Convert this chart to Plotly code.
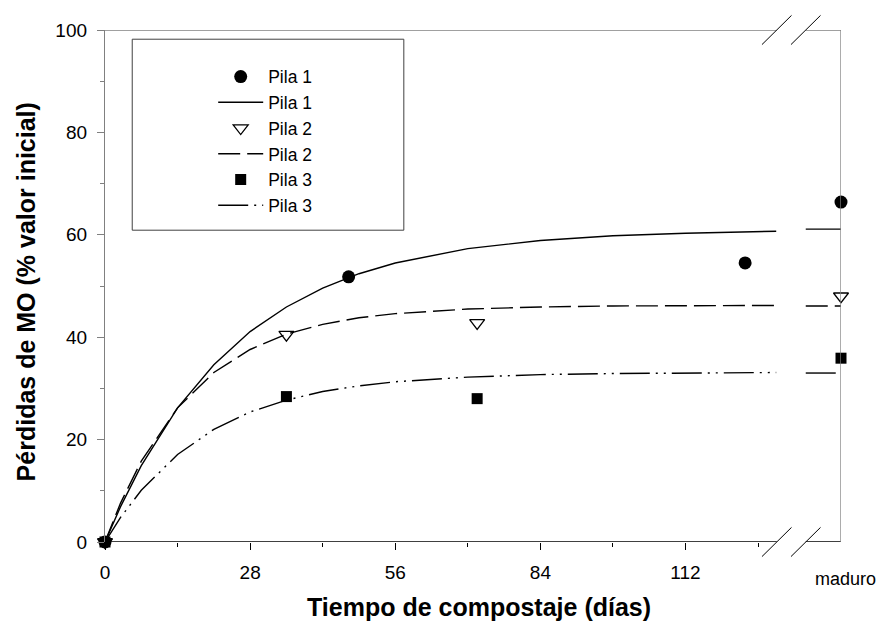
import plotly.graph_objects as go

# ---------------- data ----------------
MADURO = 142  # axis position used for the "maduro" category

# observed points
p1_x = [0, 47, 123.5, MADURO]
p1_y = [0, 51.8, 54.5, 66.4]
p2_x = [0, 35, 71.8, MADURO]
p2_y = [0, 40.5, 42.8, 48.0]
p3_x = [0, 35, 71.8, MADURO]
p3_y = [0, 28.4, 28.0, 35.9]

# fitted curves
fit_x = [0, 3, 7, 14, 21, 28, 35, 42, 49, 56, 70, 84, 98, 112, 129.5]
fit1_y = [0, 6.9, 14.9, 26.2, 34.6, 41.1, 45.9, 49.6, 52.4, 54.5, 57.3, 58.9, 59.8, 60.3, 60.7]
fit2_y = [0, 7.6, 15.8, 26.2, 33.1, 37.6, 40.6, 42.5, 43.8, 44.6, 45.5, 45.9, 46.1, 46.2, 46.2]
fit3_y = [0, 4.8, 10.1, 17.1, 22.0, 25.4, 27.7, 29.4, 30.5, 31.3, 32.2, 32.7, 32.9, 33.0, 33.1]
# fitted level drawn over the "maduro" segment
mad_seg_x = [135.2, MADURO]
fit1_mad = 61.1
fit2_mad = 46.1
fit3_mad = 33.0

x_ticks = [0, 28, 56, 84, 112]
x_minor = [14, 42, 70, 98, 126]
x_ticklabels = ["0", "28", "56", "84", "112"]
maduro_label = "maduro"
break_lo, break_hi = 129.6, 135.2

FONT = "Liberation Sans, Arial, sans-serif"

fig = go.Figure()

def curve(yvals, ymad):
    xs = fit_x + [None] + mad_seg_x
    ys = yvals + [None] + [ymad, ymad]
    return xs, ys

lw = 1.4
# legend order: marker, line, marker, line, marker, line
fig.add_trace(go.Scatter(x=p1_x, y=p1_y, mode="markers", name="Pila 1",
                         marker=dict(symbol="circle", size=13, color="black"),
                         cliponaxis=False))
xs, ys = curve(fit1_y, fit1_mad)
fig.add_trace(go.Scatter(x=xs, y=ys, mode="lines", name="Pila 1",
                         line=dict(color="black", width=lw), cliponaxis=False))
fig.add_trace(go.Scatter(x=p2_x, y=p2_y, mode="markers", name="Pila 2",
                         marker=dict(symbol="triangle-down-open", size=13, color="black",
                                     line=dict(width=1.3)),
                         cliponaxis=False))
xs, ys = curve(fit2_y, fit2_mad)
fig.add_trace(go.Scatter(x=xs, y=ys, mode="lines", name="Pila 2",
                         line=dict(color="black", width=lw, dash="22px,7px"), cliponaxis=False))
fig.add_trace(go.Scatter(x=p3_x, y=p3_y, mode="markers", name="Pila 3",
                         marker=dict(symbol="square", size=11, color="black"),
                         cliponaxis=False))
xs, ys = curve(fit3_y, fit3_mad)
fig.add_trace(go.Scatter(x=xs, y=ys, mode="lines", name="Pila 3",
                         line=dict(color="black", width=lw, dash="30px,6px,2px,6px,2px,6px"),
                         cliponaxis=False))

shapes = []
# bottom axis and top frame (broken)
for x0, x1 in [(0, break_lo), (break_hi, MADURO)]:
    shapes.append(dict(type="line", xref="x", yref="y", x0=x0, x1=x1, y0=0, y1=0,
                       line=dict(color="black", width=1.3)))
    shapes.append(dict(type="line", xref="x", yref="y", x0=x0, x1=x1, y0=100, y1=100,
                       line=dict(color="#808080", width=1.3)))
# right frame
shapes.append(dict(type="line", xref="x", yref="y", x0=MADURO, x1=MADURO, y0=0, y1=100,
                   line=dict(color="#808080", width=1.3)))
# break marks
for xc in [break_lo, break_hi]:
    for yc in [0.0, 1.0]:
        shapes.append(dict(type="line", xref="x", yref="paper",
                           x0=xc - 2.85, x1=xc + 2.85, y0=yc - 0.0285, y1=yc + 0.0285,
                           line=dict(color="black", width=1)))
# legend box
shapes.append(dict(type="rect", xref="paper", yref="paper",
                   x0=0.037, x1=0.406, y0=0.609, y1=0.982,
                   line=dict(color="#404040", width=1), fillcolor="rgba(0,0,0,0)"))

annotations = [
    dict(text=maduro_label, x=MADURO, y=0, xref="x", yref="y", yshift=-37, xshift=4,
         showarrow=False, font=dict(family=FONT, size=18, color="black"),
         xanchor="center", yanchor="middle"),
    dict(text="<b>Tiempo de compostaje (días)</b>", x=0.508, y=-0.127, xref="paper", yref="paper",
         showarrow=False, font=dict(family=FONT, size=25, color="black"),
         xanchor="center", yanchor="middle"),
    dict(text="<b>Pérdidas de MO (% valor inicial)</b>", x=-0.107, y=0.488, xref="paper", yref="paper",
         showarrow=False, textangle=-90, font=dict(family=FONT, size=25, color="black"),
         xanchor="center", yanchor="middle"),
]

fig.update_layout(
    width=879, height=620,
    margin=dict(l=97, r=46, t=20, b=86),
    paper_bgcolor="white", plot_bgcolor="white",
    font=dict(family=FONT, size=19, color="black"),
    showlegend=True,
    legend=dict(x=0.147, y=0.944, xanchor="left", yanchor="top",
                bgcolor="rgba(0,0,0,0)", borderwidth=0,
                font=dict(family=FONT, size=17.5, color="black"),
                itemwidth=45, tracegroupgap=0),
    shapes=shapes,
    annotations=annotations,
    xaxis=dict(range=[0, MADURO], showgrid=False, zeroline=False, showline=False,
               tickmode="array", tickvals=x_ticks, ticktext=x_ticklabels,
               ticks="outside", ticklen=7, tickcolor="black", tickwidth=1,
               ticklabelstandoff=6,
               tickfont=dict(family=FONT, size=19, color="black"),
               minor=dict(tickmode="array", tickvals=x_minor, ticks="outside",
                          ticklen=4, tickcolor="black")),
    yaxis=dict(range=[0, 100], showgrid=False, zeroline=False, showline=True,
               linecolor="#808080", linewidth=1.3,
               tickmode="linear", tick0=0, dtick=20,
               ticks="outside", ticklen=7, tickcolor="#808080", tickwidth=1,
               ticklabelstandoff=6,
               tickfont=dict(family=FONT, size=19, color="black"),
               minor=dict(dtick=10, ticks="outside", ticklen=4, tickcolor="#808080")),
)

fig.write_html("out.html")
